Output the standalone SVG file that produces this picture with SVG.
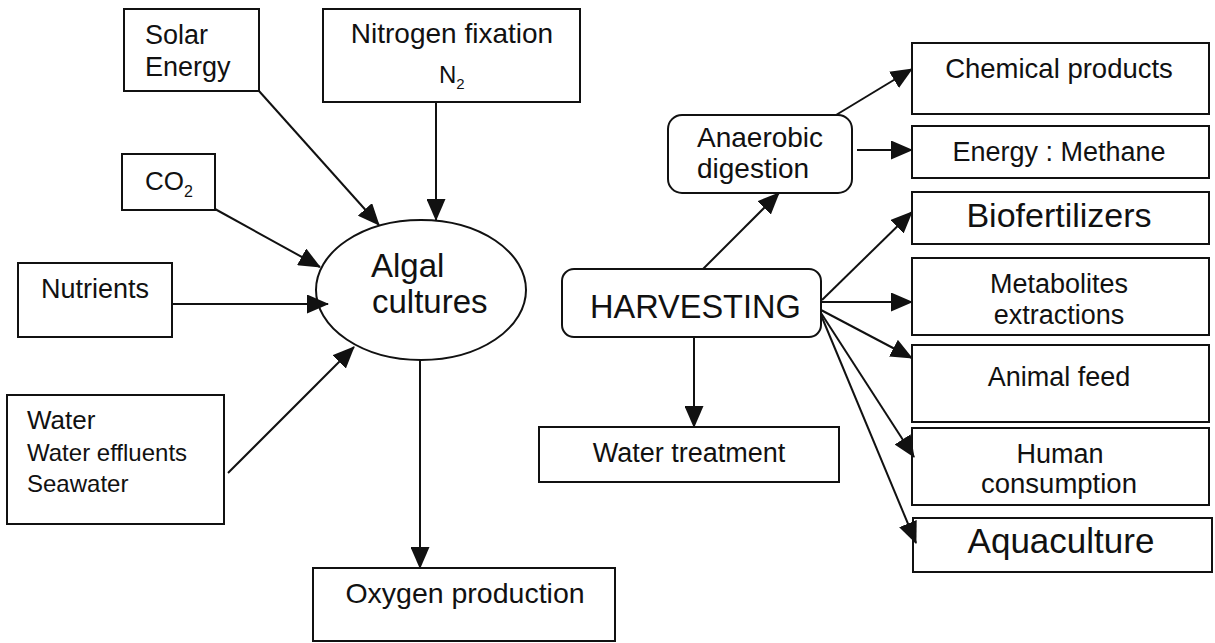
<svg xmlns="http://www.w3.org/2000/svg" width="1215" height="643" viewBox="0 0 1215 643">
<defs>
<style>
.b{fill:#fff;stroke:#111;stroke-width:2}
.t{font-family:"Liberation Sans",Arial,Helvetica,sans-serif;fill:#111}
.m{text-anchor:middle}
.c line{stroke:#111;stroke-width:2;marker-end:url(#ah)}
</style>
<marker id="ah" markerWidth="22" markerHeight="19" refX="21" refY="9.5" orient="auto" markerUnits="userSpaceOnUse">
<path d="M0,0 L22,9.5 L0,19 z" fill="#111"/>
</marker>
</defs>
<rect width="1215" height="643" fill="#fff"/>

<g id="solar"><rect class="b" x="124" y="9" width="135" height="82"/>
<text class="t" x="145" y="44" font-size="27">Solar</text>
<text class="t" x="145" y="76" font-size="27">Energy</text></g>

<g id="nitrogen"><rect class="b" x="323" y="9" width="257" height="93"/>
<text class="t m" x="452" y="43" font-size="28">Nitrogen fixation</text>
<text class="t" x="439" y="83" font-size="24">N<tspan font-size="15" dy="6">2</tspan></text></g>

<g id="co2"><rect class="b" x="122" y="154" width="93" height="56"/>
<text class="t" x="145" y="190" font-size="26">CO<tspan font-size="16" dy="7">2</tspan></text></g>

<g id="nutrients"><rect class="b" x="18" y="263" width="154" height="74"/>
<text class="t" x="41" y="298" font-size="27">Nutrients</text></g>

<g id="water"><rect class="b" x="7" y="395" width="217" height="129"/>
<text class="t" x="27" y="429" font-size="26">Water</text>
<text class="t" x="27" y="461" font-size="24">Water effluents</text>
<text class="t" x="27" y="492" font-size="24">Seawater</text></g>

<g id="algal"><ellipse class="b" cx="421" cy="290" rx="105" ry="70"/>
<text class="t" x="371" y="277" font-size="33">Algal</text>
<text class="t" x="372" y="313" font-size="33">cultures</text></g>

<g id="oxygen"><rect class="b" x="313" y="568" width="302" height="73"/>
<text class="t m" x="465" y="603" font-size="28.5">Oxygen production</text></g>

<g id="anaerobic"><rect class="b" x="668" y="115" width="184" height="78" rx="14"/>
<text class="t" x="697" y="147" font-size="28">Anaerobic</text>
<text class="t" x="697" y="178" font-size="28">digestion</text></g>

<g id="harvesting"><rect class="b" x="562" y="269" width="259" height="68" rx="12"/>
<text class="t" x="590" y="318" font-size="32.5">HARVESTING</text></g>

<g id="watertreatment"><rect class="b" x="539" y="427" width="300" height="55"/>
<text class="t m" x="689" y="462" font-size="27">Water treatment</text></g>

<g id="chemical"><rect class="b" x="912" y="43" width="297" height="71"/>
<text class="t m" x="1059" y="78" font-size="27.5">Chemical products</text></g>

<g id="energy"><rect class="b" x="912" y="126" width="297" height="52"/>
<text class="t m" x="1059" y="161" font-size="27">Energy : Methane</text></g>

<g id="biofertilizers"><rect class="b" x="912" y="192" width="297" height="52"/>
<text class="t m" x="1059" y="227" font-size="34">Biofertilizers</text></g>

<g id="metabolites"><rect class="b" x="912" y="258" width="297" height="77"/>
<text class="t m" x="1059" y="293" font-size="27">Metabolites</text>
<text class="t m" x="1059" y="324" font-size="27">extractions</text></g>

<g id="animalfeed"><rect class="b" x="912" y="345" width="297" height="77"/>
<text class="t m" x="1059" y="386" font-size="27">Animal feed</text></g>

<g id="human"><rect class="b" x="912" y="428" width="297" height="77"/>
<text class="t m" x="1060" y="463" font-size="27">Human</text>
<text class="t m" x="1059" y="493" font-size="27.5">consumption</text></g>

<g id="aquaculture"><rect class="b" x="913" y="518" width="299" height="54"/>
<text class="t m" x="1061" y="553" font-size="35">Aquaculture</text></g>

<g id="connectors" class="c">
<line x1="259" y1="91" x2="379" y2="225"/>
<line x1="436" y1="102" x2="436" y2="220"/>
<line x1="215" y1="209" x2="320" y2="267"/>
<line x1="172" y1="304" x2="328" y2="304"/>
<line x1="228" y1="473" x2="354" y2="347"/>
<line x1="420" y1="360" x2="420" y2="568"/>
<line x1="703" y1="269" x2="779" y2="193"/>
<line x1="836" y1="115" x2="912" y2="69"/>
<line x1="857" y1="150" x2="912" y2="150"/>
<line x1="822" y1="300" x2="912" y2="212"/>
<line x1="822" y1="302" x2="912" y2="302"/>
<line x1="821" y1="310" x2="912" y2="358"/>
<line x1="821" y1="313" x2="914" y2="457"/>
<line x1="821" y1="315" x2="916" y2="543"/>
<line x1="694" y1="337" x2="694" y2="427"/>
</g>
</svg>
